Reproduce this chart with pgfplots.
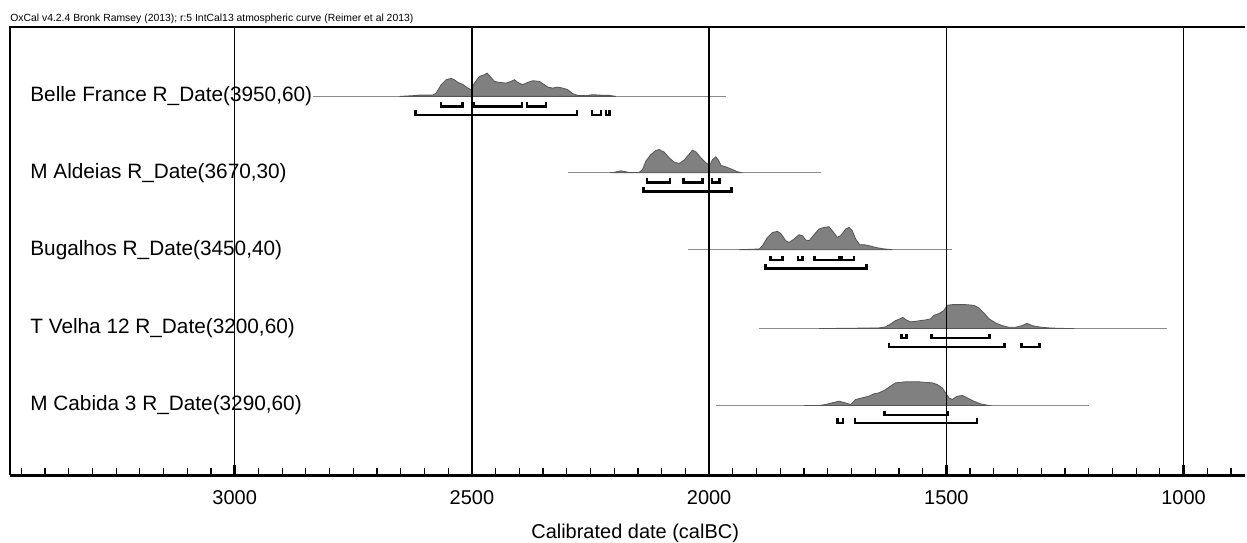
\documentclass[border=0pt]{standalone}
\usepackage{pgfplots}
\pgfplotsset{compat=1.18}
\usepackage{fontspec}
\setmainfont{Liberation Sans}
\definecolor{dens}{RGB}{128,128,128}
\definecolor{densline}{RGB}{85,85,85}
\definecolor{baseln}{RGB}{140,140,140}
\begin{document}
\begin{tikzpicture}
\begin{axis}[
  scale only axis, width=618.5pt, height=224.5pt,
  x dir=reverse, xmin=869.5, xmax=3473.7, ymin=0, ymax=449,
  clip=false,
  axis line style={draw=none},
  xtick={1000,1500,2000,2500,3000},
  minor xtick={900,950,...,3450},
  xtick pos=left, ytick=\empty,
  tick align=inside,
  major tick length=5pt, minor tick length=3.5pt,
  every major tick/.style={black, line width=1.3pt},
  every minor tick/.style={black, line width=0.6pt},
  xmajorgrids, major grid style={black, line width=0.65pt},
  axis on top,
  xticklabel style={font=\fontsize{10}{12}\selectfont, yshift=-4pt},
  /pgf/number format/1000 sep={},
  /pgf/number format/assume math mode=true,
  bracket/.style={black, line width=1.3pt, mark=none},
  densplot/.style={fill=dens, draw=densline, line width=0.4pt, mark=none},
  baseplot/.style={baseln, line width=0.5pt, mark=none},
]
% invisible frame fixing the picture size
\path (rel axis cs:-0.00808,-0.1425) rectangle (rel axis cs:1,1.0601);

% ---------- Belle France (baseline 379.5)
\addplot[baseplot] coordinates {(2835.8,379.5) (1964.2,379.5)};
\addplot[densplot] coordinates {
(2652.6,379.5) (2624.5,380.2) (2610.5,380.8) (2582.4,380.8) (2575.4,382.8)
(2564.9,391.2) (2554.4,396.2) (2543.8,397.5) (2536.8,396.2) (2529.8,393.5)
(2519.3,391.5) (2508.7,387.8) (2501.7,386.2) (2494.7,392.8) (2484.2,399.5)
(2473.7,401.2) (2468.0,402.8) (2463.1,400.2) (2452.6,394.5) (2442.1,393.5)
(2428.0,392.8) (2417.5,394.5) (2410.5,396.2) (2403.5,393.5) (2393.0,391.2)
(2382.4,393.5) (2371.9,395.2) (2357.9,394.5) (2347.4,391.2) (2340.3,388.8)
(2329.8,387.8) (2319.3,388.8) (2308.7,387.8) (2298.2,386.2) (2287.7,382.2)
(2277.2,380.5) (2259.6,380.2) (2245.6,381.2) (2231.6,380.8) (2221.1,380.5)
(2210.5,380.5) (2196.5,379.5)} -- cycle;
\addplot[bracket] coordinates {(2564.9,374) (2564.9,369.5) (2519.3,369.5) (2519.3,374)};
\addplot[bracket] coordinates {(2496.8,374) (2496.8,369.5) (2394.4,369.5) (2394.4,374)};
\addplot[bracket] coordinates {(2383.8,374) (2383.8,369.5) (2343.9,369.5) (2343.9,374)};
\addplot[bracket] coordinates {(2618.9,365.5) (2618.9,361) (2278.6,361) (2278.6,365.5)};
\addplot[bracket] coordinates {(2247.0,365.5) (2247.0,361) (2228.0,361) (2228.0,365.5)};
\addplot[bracket] coordinates {(2217.5,365.5) (2217.5,361) (2210.5,361) (2210.5,365.5)};

% ---------- M Aldeias (baseline 303)
\addplot[baseplot] coordinates {(2298.3,303) (1764.9,303)};
\addplot[densplot] coordinates {
(2210,303) (2203.5,303) (2193.0,304.3) (2186.0,305) (2179.0,304.3) (2168.4,303.3)
(2147.4,303.3) (2140.4,306.3) (2133.4,314.7) (2122.8,321.3) (2112.3,325.3)
(2105.3,326.3) (2094.8,323.7) (2084.2,318) (2073.7,313.7) (2063.2,312.3)
(2052.7,315.7) (2045.6,319.7) (2035.1,325.7) (2028.1,324) (2017.5,318)
(2007.0,313) (1998.6,310.3) (1993.0,316.3) (1986.0,319) (1980.4,315.7)
(1974.8,310.3) (1965.0,309) (1950.9,306.3) (1940.4,304) (1929.9,303)} -- cycle;
\addplot[bracket] coordinates {(2131.3,297.5) (2131.3,293) (2082.1,293) (2082.1,297.5)};
\addplot[bracket] coordinates {(2054.1,297.5) (2054.1,293) (2014.0,293) (2014.0,297.5)};
\addplot[bracket] coordinates {(1994.4,297.5) (1994.4,293) (1977.6,293) (1977.6,297.5)};
\addplot[bracket] coordinates {(2138.3,289) (2138.3,284.5) (1953.0,284.5) (1953.0,289)};

% ---------- Bugalhos (baseline 226)
\addplot[baseplot] coordinates {(2043.6,226) (1489.1,226)};
\addplot[densplot] coordinates {
(1936.8,226) (1894.7,226.7) (1887.7,230) (1877.1,238.3) (1866.6,243.3)
(1856.1,244.3) (1849.1,242.3) (1838.6,235) (1831.5,233.3) (1821.0,236.7)
(1810.5,241) (1803.5,240) (1796.4,235.7) (1789.4,235) (1778.9,241)
(1768.4,246.7) (1757.9,248.3) (1747.3,249) (1740.3,245) (1729.8,238.3)
(1722.8,240) (1712.2,246.7) (1705.2,248.3) (1698.2,245) (1691.2,236.7)
(1682.8,231) (1673.6,231) (1663.1,230) (1649.1,228.3) (1635.1,227) (1614.0,226)} -- cycle;
\addplot[bracket] coordinates {(1870.1,220) (1870.1,215.5) (1845.6,215.5) (1845.6,220)};
\addplot[bracket] coordinates {(1812.6,220) (1812.6,215.5) (1803.5,215.5) (1803.5,220)};
\addplot[bracket] coordinates {(1778.2,220) (1778.2,215.5) (1726.3,215.5) (1726.3,220)};
\addplot[bracket] coordinates {(1720.7,220) (1720.7,215.5) (1694.7,215.5) (1694.7,220)};
\addplot[bracket] coordinates {(1880.7,211.5) (1880.7,207) (1668.0,207) (1668.0,211.5)};

% ---------- T Velha 12 (baseline 147)
\addplot[baseplot] coordinates {(1894.7,147) (1035.1,147)};
\addplot[densplot] coordinates {
(1768.4,147) (1642.1,147.7) (1628.0,148.7) (1617.5,151.7) (1607.0,155)
(1596.5,157) (1591.6,158.3) (1585.9,156) (1575.4,153.7) (1564.9,154.3)
(1554.4,155) (1543.8,155.7) (1533.3,156.7) (1526.3,160.3) (1515.8,162)
(1505.3,165) (1498.2,170.3) (1487.7,171) (1459.6,171) (1442.1,170.3)
(1431.6,167.7) (1421.0,162.7) (1410.5,157) (1396.5,152.7) (1382.4,150)
(1368.4,148.3) (1354.4,148.3) (1340.3,150) (1329.8,152.3) (1319.3,150)
(1305.2,148.7) (1284.2,147.7) (1263.1,147.3) (1230,147)} -- cycle;
\addplot[bracket] coordinates {(1594.4,142) (1594.4,137.5) (1584.5,137.5) (1584.5,142)};
\addplot[bracket] coordinates {(1531.2,142) (1531.2,137.5) (1409.1,137.5) (1409.1,142)};
\addplot[bracket] coordinates {(1621.0,133) (1621.0,128.5) (1377.5,128.5) (1377.5,133)};
\addplot[bracket] coordinates {(1341.7,133) (1341.7,128.5) (1303.8,128.5) (1303.8,133)};

% ---------- M Cabida 3 (baseline 70)
\addplot[baseplot] coordinates {(1984.6,70) (1200,70)};
\addplot[densplot] coordinates {
(1800,70) (1768.4,70) (1754.4,71) (1740.3,72.7) (1726.3,74.3) (1715.8,73)
(1701.7,71) (1691.2,76) (1677.2,77.7) (1663.1,79.3) (1652.6,81.7)
(1642.1,82.7) (1631.6,85) (1621.0,88.3) (1607.0,92.7) (1585.9,93.7)
(1557.9,93.7) (1529.8,92.7) (1519.3,91) (1508.8,87.7) (1501.7,82.7)
(1494.7,77.7) (1487.7,76) (1477.2,79.3) (1466.7,80) (1456.1,77.7)
(1442.1,74.3) (1428.1,71.7) (1410.5,70)} -- cycle;
\addplot[bracket] coordinates {(1630.9,65) (1630.9,60.5) (1498.2,60.5) (1498.2,65)};
\addplot[bracket] coordinates {(1729.8,57) (1729.8,52.5) (1717.9,52.5) (1717.9,57)};
\addplot[bracket] coordinates {(1692.6,57) (1692.6,52.5) (1435.1,52.5) (1435.1,57)};

% ---------- labels
\begin{scope}[every node/.style={anchor=west, inner sep=0pt, font=\fontsize{10.4}{12}\selectfont}]
\node at (axis cs:3431.6,379.5) {Belle France R\_Date(3950,60)};
\node at (axis cs:3431.6,303) {M Aldeias R\_Date(3670,30)};
\node at (axis cs:3431.6,226) {Bugalhos R\_Date(3450,40)};
\node at (axis cs:3431.6,147) {T Velha 12 R\_Date(3200,60)};
\node at (axis cs:3431.6,70) {M Cabida 3 R\_Date(3290,60)};
\end{scope}

% frame
\draw[black, line width=1pt] (rel axis cs:0,0) -- (rel axis cs:0,1) -- (rel axis cs:1,1);
\draw[black, line width=1.5pt] (rel axis cs:0,0) -- (rel axis cs:1,0);

% header and axis title
\node[anchor=west, inner sep=0pt, font=\fontsize{5.2}{6}\selectfont] at (rel axis cs:0,1.0178)
  {OxCal v4.2.4 Bronk Ramsey (2013); r:5 IntCal13 atmospheric curve (Reimer et al 2013)};
\node[inner sep=0pt, font=\fontsize{10}{12}\selectfont] at (rel axis cs:0.506,-0.128)
  {Calibrated date (calBC)};
\end{axis}
\end{tikzpicture}
\end{document}
